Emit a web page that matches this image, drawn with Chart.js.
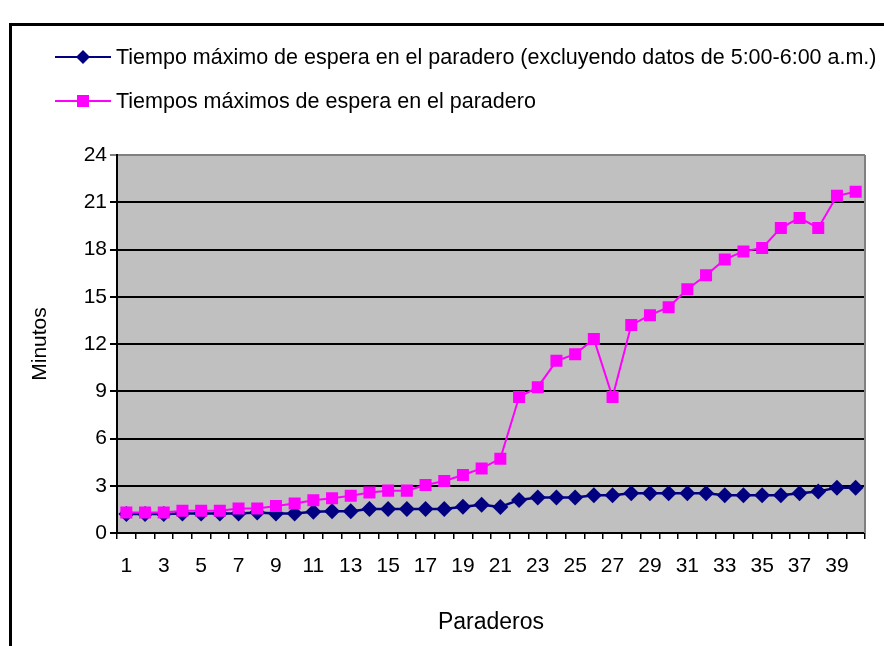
<!DOCTYPE html>
<html>
<head>
<meta charset="utf-8">
<script src="https://cdn.jsdelivr.net/npm/chart.js@4/dist/chart.umd.min.js"></script>
<style>
  html, body { margin: 0; padding: 0; background: #fff; }
  #wrap { position: relative; width: 884px; height: 646px; }
</style>
</head>
<body>
<div id="wrap"><canvas id="chart" width="884" height="646"></canvas></div>
<script>
'use strict';

// Paraderos 1..40
const paraderos = Array.from({ length: 40 }, (_, i) => String(i + 1));

// Tiempo máximo excluyendo 5:00-6:00 a.m. (minutos)
const tiempoSinMadrugada = [
  1.20, 1.20, 1.20, 1.24, 1.24, 1.24, 1.24, 1.30, 1.24, 1.24,
  1.35, 1.38, 1.38, 1.52, 1.52, 1.52, 1.52, 1.52, 1.66, 1.79,
  1.65, 2.10, 2.25, 2.25, 2.25, 2.40, 2.40, 2.53, 2.53, 2.53,
  2.53, 2.53, 2.40, 2.40, 2.40, 2.40, 2.53, 2.63, 2.88, 2.88,
];

// Tiempos máximos de espera (minutos)
const tiemposMaximos = [
  1.30, 1.30, 1.30, 1.41, 1.41, 1.41, 1.55, 1.55, 1.72, 1.87,
  2.08, 2.21, 2.36, 2.57, 2.69, 2.69, 3.05, 3.30, 3.68, 4.10,
  4.72, 8.63, 9.26, 10.93, 11.35, 12.32, 8.63, 13.20, 13.83, 14.34,
  15.48, 16.36, 17.37, 17.88, 18.09, 19.37, 20.00, 19.37, 21.41, 21.67,
];

const yTicks = { min: 0, max: 24, step: 3 };

const FONT = 'Arial, "Liberation Sans", sans-serif';

// fondo gris, marco, leyenda y títulos de ejes
const decor = {
  id: 'decor',
  beforeDraw(chart) {
    const { ctx, chartArea: a } = chart;
    ctx.save();
    ctx.fillStyle = '#fff';
    ctx.fillRect(0, 0, chart.width, chart.height);
    // marco exterior
    ctx.fillStyle = '#000';
    ctx.fillRect(9, 23, chart.width - 9, 3);
    ctx.fillRect(9, 23, 3, chart.height - 23);
    // área de trazado
    ctx.fillStyle = '#c0c0c0';
    ctx.fillRect(a.left, a.top, a.right - a.left, a.bottom - a.top);
    ctx.restore();
  },
  afterDraw(chart) {
    const { ctx, chartArea: a } = chart;
    ctx.save();
    // borde derecho gris
    ctx.strokeStyle = '#808080';
    ctx.lineWidth = 2;
    ctx.beginPath();
    ctx.moveTo(a.right, a.top);
    ctx.lineTo(a.right, a.bottom);
    ctx.stroke();

    // leyenda
    ctx.font = '21.5px ' + FONT;
    ctx.textBaseline = 'middle';
    chart.data.datasets.forEach((ds, i) => {
      const y = 57 + i * 44;
      ctx.strokeStyle = ds.borderColor;
      ctx.lineWidth = 2;
      ctx.beginPath();
      ctx.moveTo(55, y);
      ctx.lineTo(111, y);
      ctx.stroke();
      ctx.fillStyle = ds.pointBackgroundColor;
      ctx.beginPath();
      if (ds.pointStyle === 'rectRot') {
        ctx.moveTo(83, y - 7); ctx.lineTo(90, y); ctx.lineTo(83, y + 7); ctx.lineTo(76, y);
      } else {
        ctx.rect(77, y - 6, 12, 12);
      }
      ctx.fill();
      ctx.fillStyle = '#000';
      ctx.textAlign = 'left';
      ctx.fillText(ds.label, 116, y + 1);
    });

    // títulos de ejes
    ctx.font = '23px ' + FONT;
    ctx.textAlign = 'center';
    ctx.fillText('Paraderos', (a.left + a.right) / 2, 623);
    ctx.font = '21px ' + FONT;
    ctx.translate(40, (a.top + a.bottom) / 2);
    ctx.rotate(-Math.PI / 2);
    ctx.fillText('Minutos', 0, 0);
    ctx.restore();
  },
};

new Chart(document.getElementById('chart'), {
  type: 'line',
  data: {
    labels: paraderos,
    datasets: [
      {
        label: 'Tiempo máximo de espera en el paradero (excluyendo datos de 5:00-6:00 a.m.)',
        data: tiempoSinMadrugada,
        borderColor: '#000080',
        backgroundColor: '#000080',
        pointBackgroundColor: '#000080',
        pointBorderColor: '#000080',
        borderWidth: 2.5,
        pointStyle: 'rectRot',
        pointRadius: 8,
        pointBorderWidth: 0,
        tension: 0,
        order: 2,
      },
      {
        label: 'Tiempos máximos de espera en el paradero',
        data: tiemposMaximos,
        borderColor: '#ff00ff',
        backgroundColor: '#ff00ff',
        pointBackgroundColor: '#ff00ff',
        pointBorderColor: '#ff00ff',
        borderWidth: 2,
        pointStyle: 'rect',
        pointRadius: 8.5,
        pointBorderWidth: 0,
        tension: 0,
        order: 1,
      },
    ],
  },
  options: {
    responsive: false,
    animation: false,
    layout: { padding: { top: 155, right: 19, left: 0, bottom: 0 } },
    plugins: {
      legend: { display: false },
      tooltip: { enabled: false },
    },
    scales: {
      x: {
        offset: true,
        afterFit: s => { s.height = 113; },
        grid: {
          offset: true,
          drawOnChartArea: false,
          drawTicks: true,
          tickLength: 6,
          color: '#000',
          lineWidth: 1.5,
        },
        border: { color: '#000', width: 2 },
        ticks: {
          autoSkip: false,
          maxRotation: 0,
          padding: 15,
          color: '#000',
          font: { family: FONT, size: 21 },
          callback: (v, i) => (i % 2 === 0 ? paraderos[i] : ''),
        },
      },
      y: {
        min: yTicks.min,
        max: yTicks.max,
        afterFit: s => { s.width = 117; },
        grid: {
          color: ctx => (ctx.tick && ctx.tick.value === yTicks.max ? '#808080' : '#000'),
          lineWidth: 2,
          tickLength: 7,
        },
        border: { color: '#000', width: 2 },
        ticks: {
          stepSize: yTicks.step,
          padding: 3,
          color: '#000',
          font: { family: FONT, size: 21 },
        },
      },
    },
  },
  plugins: [decor],
});
</script>
</body>
</html>
